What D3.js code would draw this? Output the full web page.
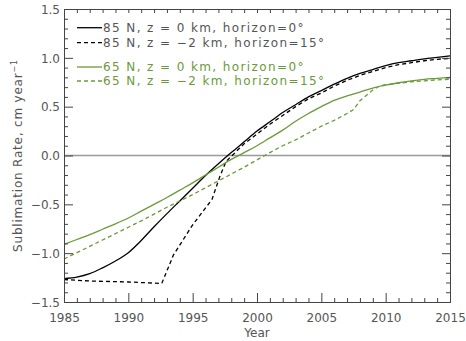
<!DOCTYPE html>
<html>
<head>
<meta charset="utf-8">
<script src="https://cdn.jsdelivr.net/npm/d3@7"></script>
<style>
  html, body { margin: 0; padding: 0; background: #fff; }
  svg text { font-family: "DejaVu Sans", sans-serif; fill: #555; }
</style>
</head>
<body>
<svg id="chart" width="466" height="341"></svg>
<script>
// 年（横軸）
const years = d3.range(1985, 2016)

// 85N, z=0 km, horizon=0°
const n85Flat = [-1.26, -1.245, -1.21, -1.15, -1.08, -0.995, -0.87, -0.73, -0.595, -0.465,
  -0.335, -0.205, -0.085, 0.03, 0.14, 0.25, 0.345, 0.44, 0.52, 0.6,
  0.665, 0.73, 0.79, 0.84, 0.88, 0.92, 0.95, 0.97, 0.99, 1.005, 1.02]

// 85N, z=-2 km, horizon=15° (knee is not on a whole year)
const n85SlopeYears = [1985, 1987, 1990, 1992.6, 1993.5, 1995, 1996.5, 1997.1, 1997.6, 1998.3, 1999,
  2000, 2001, 2002, 2003, 2004, 2005, 2006, 2007, 2008, 2009, 2010, 2011, 2012, 2013, 2014, 2015]
const n85Slope = [-1.27, -1.285, -1.295, -1.31, -1.02, -0.71, -0.45, -0.22, -0.06, 0.03, 0.12,
  0.22, 0.32, 0.41, 0.5, 0.58, 0.64, 0.71, 0.77, 0.82, 0.86, 0.9, 0.93, 0.95, 0.97, 0.985, 0.995]

// 65N, z=0 km, horizon=0°
const n65Flat = [-0.91, -0.86, -0.81, -0.755, -0.7, -0.64, -0.57, -0.5, -0.43, -0.355,
  -0.28, -0.2, -0.12, -0.04, 0.03, 0.1, 0.18, 0.26, 0.35, 0.43,
  0.5, 0.565, 0.61, 0.65, 0.69, 0.72, 0.745, 0.765, 0.78, 0.79, 0.8]

// 65N, z=-2 km, horizon=15°
const n65SlopeYears = [1985, 1986, 1987, 1988, 1989, 1990, 1991, 1992, 1993, 1994, 1995, 1996, 1997, 1998, 1999,
  2000, 2001, 2002, 2003, 2004, 2005, 2006, 2007, 2007.5, 2008, 2009, 2009.5, 2010, 2011, 2012, 2013, 2014, 2015]
const n65Slope = [-1.06, -0.995, -0.93, -0.865, -0.8, -0.735, -0.67, -0.6, -0.53, -0.465, -0.4, -0.33, -0.26, -0.19, -0.12,
  -0.045, 0.03, 0.1, 0.16, 0.23, 0.3, 0.36, 0.43, 0.47, 0.56, 0.67, 0.71, 0.725, 0.74, 0.755, 0.765, 0.775, 0.78]

const legendLabels = [
  '85 N, z = 0 km, horizon=0°',
  '85 N, z = \u22122 km, horizon=15°',
  '65 N, z = 0 km, horizon=0°',
  '65 N, z = \u22122 km, horizon=15°'
]

const xTicks = [1985, 1990, 1995, 2000, 2005, 2010, 2015]
const yTicks = [-1.5, -1.0, -0.5, 0.0, 0.5, 1.0, 1.5]

const GREEN = '#6a9a3a'
const AXIS = '#444'

// 実線は滑らかに、破線は折れ点を残す
const series = [
  { x: years, y: n85Flat, color: '#000', dash: null, curve: d3.curveMonotoneX },
  { x: n85SlopeYears, y: n85Slope, color: '#000', dash: '4,3', curve: d3.curveLinear },
  { x: years, y: n65Flat, color: GREEN, dash: null, curve: d3.curveMonotoneX },
  { x: n65SlopeYears, y: n65Slope, color: GREEN, dash: '4,3', curve: d3.curveLinear }
]

const margin = { left: 64, right: 16, top: 9, bottom: 39 }
const W = 466, H = 341
const svg = d3.select('#chart')

const x = d3.scaleLinear().domain([1985, 2015]).range([margin.left, W - margin.right])
const y = d3.scaleLinear().domain([-1.5, 1.5]).range([H - margin.bottom, margin.top])

const isMajorY = d => yTicks.some(t => Math.abs(t - d) < 1e-6)
const isMajorX = d => xTicks.includes(d)

// ゼロ線
svg.append('line')
  .attr('x1', x(1985)).attr('x2', x(2015))
  .attr('y1', y(0)).attr('y2', y(0))
  .attr('stroke', '#999').attr('stroke-width', 1.5)

// 曲線
series.forEach(s => {
  const line = d3.line().x(d => x(d[0])).y(d => y(d[1])).curve(s.curve)
  svg.append('path')
    .datum(s.x.map((v, i) => [v, s.y[i]]))
    .attr('d', line)
    .attr('fill', 'none')
    .attr('stroke', s.color)
    .attr('stroke-width', 1.3)
    .attr('stroke-dasharray', s.dash)
})

// 軸（内向きの目盛り、四辺とも）
const xMinor = d3.range(1985, 2016)
const yMinor = d3.range(-15, 16).map(v => v / 10)

const axBottom = svg.append('g').attr('transform', `translate(0,${y(-1.5)})`)
axBottom.call(d3.axisBottom(x).tickValues(xMinor).tickSize(-4).tickFormat(''))
axBottom.selectAll('.tick line').filter(isMajorX).attr('y2', -9)
axBottom.selectAll('.tick').filter(isMajorX).append('text')
  .attr('y', 20).attr('text-anchor', 'middle').attr('font-size', 12)
  .text(d => d)

const axTop = svg.append('g').attr('transform', `translate(0,${y(1.5)})`)
axTop.call(d3.axisTop(x).tickValues(xMinor).tickSize(-4).tickFormat(''))

const axLeft = svg.append('g').attr('transform', `translate(${x(1985)},0)`)
axLeft.call(d3.axisLeft(y).tickValues(yMinor).tickSize(-4).tickFormat(''))
axLeft.selectAll('.tick line').filter(isMajorY).attr('x2', 9)
axLeft.selectAll('.tick').filter(isMajorY).append('text')
  .attr('x', -4).attr('dy', '0.35em').attr('text-anchor', 'end').attr('font-size', 12)
  .text(d => d3.format('.1f')(d).replace('-', '\u2212'))

const axRight = svg.append('g').attr('transform', `translate(${x(2015)},0)`)
axRight.call(d3.axisRight(y).tickValues(yMinor).tickSize(-4).tickFormat(''))
axRight.selectAll('.tick line').filter(isMajorY).attr('x2', -8)

svg.selectAll('.domain').attr('stroke', AXIS)
svg.selectAll('.tick line').attr('stroke', AXIS)

// 軸ラベル
svg.append('text')
  .attr('x', x(2000)).attr('y', 337)
  .attr('text-anchor', 'middle').attr('font-size', 12)
  .text('Year')

const yl = svg.append('text')
  .attr('transform', `translate(22,${(y(1.5) + y(-1.5)) / 2}) rotate(-90)`)
  .attr('text-anchor', 'middle').attr('font-size', 12)
  .attr('letter-spacing', 0.8)
yl.append('tspan').text('Sublimation Rate, cm year')
yl.append('tspan').attr('dy', -5).attr('font-size', 8).text('\u22121')

// 凡例
const legendY = [27.7, 42.7, 67, 81]
series.forEach((s, i) => {
  svg.append('line')
    .attr('x1', 77).attr('x2', 102)
    .attr('y1', legendY[i]).attr('y2', legendY[i])
    .attr('stroke', s.color).attr('stroke-width', 1.3)
    .attr('stroke-dasharray', s.dash)
  svg.append('text')
    .attr('x', 103).attr('y', legendY[i]).attr('dy', '0.35em')
    .attr('font-size', 12)
    .attr('letter-spacing', 1.4)
    .style('fill', s.color === '#000' ? '#555' : GREEN)
    .text(legendLabels[i])
})
</script>
</body>
</html>
